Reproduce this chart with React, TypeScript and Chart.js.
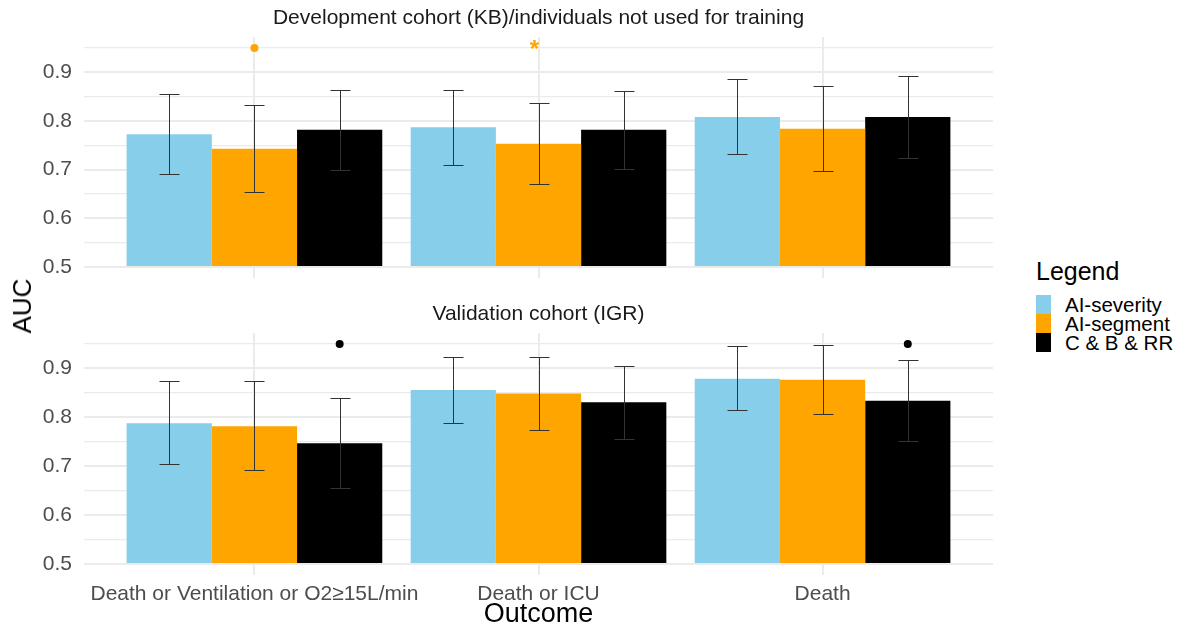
import React, { useEffect, useRef } from 'react';
import { Chart, registerables } from 'chart.js';

Chart.register(...registerables);

const FONT = '"Liberation Sans", Arial, Helvetica, sans-serif';

// ---------- data ----------
const outcomes = ['Death or Ventilation or O2≥15L/min', 'Death or ICU', 'Death'];
const seriesNames = ['AI-severity', 'AI-segment', 'C & B & RR'];
const seriesColors = ['#87CEEB', '#FFA500', '#000000'];
const panelTitles = ['Development cohort (KB)/individuals not used for training', 'Validation cohort (IGR)'];
const yTickValues = [0.5, 0.55, 0.6, 0.65, 0.7, 0.75, 0.8, 0.85, 0.9, 0.95];
const yMin = 0.4775;
const yMax = 0.9725;
const barBase = 0.5;
const markLevel = 0.95;

// Development cohort (KB)
const devSeverity = [0.773, 0.787, 0.808];
const devSeverityLo = [0.691, 0.71, 0.733];
const devSeverityHi = [0.856, 0.864, 0.886];
const devSegment = [0.743, 0.753, 0.784];
const devSegmentLo = [0.654, 0.671, 0.697];
const devSegmentHi = [0.832, 0.837, 0.871];
const devCbrr = [0.782, 0.782, 0.808];
const devCbrrLo = [0.7, 0.702, 0.724];
const devCbrrHi = [0.864, 0.862, 0.892];
const devMarks = [
  { outcome: 0, series: 1, symbol: 'dot', color: '#FFA500' },
  { outcome: 1, series: 1, symbol: 'star', color: '#FFA500' },
];

// Validation cohort (IGR)
const valSeverity = [0.788, 0.856, 0.879];
const valSeverityLo = [0.704, 0.788, 0.816];
const valSeverityHi = [0.875, 0.924, 0.945];
const valSegment = [0.782, 0.849, 0.877];
const valSegmentLo = [0.692, 0.774, 0.806];
const valSegmentHi = [0.875, 0.924, 0.947];
const valCbrr = [0.747, 0.831, 0.834];
const valCbrrLo = [0.655, 0.756, 0.751];
const valCbrrHi = [0.839, 0.906, 0.917];
const valMarks = [
  { outcome: 0, series: 2, symbol: 'dot', color: '#000000' },
  { outcome: 2, series: 2, symbol: 'dot', color: '#000000' },
];

type Mark = { outcome: number; series: number; symbol: string; color: string };

type PanelProps = {
  title: string;
  values: number[][];
  lows: number[][];
  highs: number[][];
  marks: Mark[];
  showX: boolean;
  top: number;
  height: number;
  xAxisHeight: number;
};

function Panel(p: PanelProps) {
  const ref = useRef<HTMLCanvasElement | null>(null);
  useEffect(() => {
    if (!ref.current) return;

    const errorBars = {
      id: 'errorBars',
      afterDatasetsDraw(chart: any) {
        const ctx = chart.ctx;
        const ys = chart.scales.y;
        ctx.save();
        ctx.strokeStyle = '#333333';
        ctx.lineWidth = 1;
        p.values.forEach((_, si) => {
          const meta = chart.getDatasetMeta(si);
          meta.data.forEach((el: any, i: number) => {
            const x = Math.round(el.x) + 0.5;
            const yl = Math.round(ys.getPixelForValue(p.lows[si][i])) + 0.5;
            const yh = Math.round(ys.getPixelForValue(p.highs[si][i])) + 0.5;
            const cap = 10;
            ctx.beginPath();
            ctx.moveTo(x, yl);
            ctx.lineTo(x, yh);
            ctx.moveTo(x - cap, yh);
            ctx.lineTo(x + cap, yh);
            ctx.moveTo(x - cap, yl);
            ctx.lineTo(x + cap, yl);
            ctx.stroke();
          });
        });
        ctx.restore();
      },
    };

    const marksPlugin = {
      id: 'marks',
      afterDatasetsDraw(chart: any) {
        const ctx = chart.ctx;
        const ys = chart.scales.y;
        ctx.save();
        p.marks.forEach((m) => {
          const el = chart.getDatasetMeta(m.series).data[m.outcome];
          const x = el.x;
          const y = ys.getPixelForValue(markLevel);
          ctx.fillStyle = m.color;
          if (m.symbol === 'dot') {
            ctx.beginPath();
            ctx.arc(x, y, 4, 0, Math.PI * 2);
            ctx.fill();
          } else {
            ctx.font = `bold 24px ${FONT}`;
            ctx.textAlign = 'center';
            ctx.textBaseline = 'middle';
            ctx.fillText('*', x - 4, y + 2);
          }
        });
        ctx.restore();
      },
    };

    const stripTitle = {
      id: 'stripTitle',
      afterDraw(chart: any) {
        const ctx = chart.ctx;
        const a = chart.chartArea;
        ctx.save();
        ctx.font = `21px ${FONT}`;
        ctx.fillStyle = '#1a1a1a';
        ctx.textAlign = 'center';
        ctx.textBaseline = 'middle';
        ctx.fillText(p.title, (a.left + a.right) / 2, a.top - 19);
        ctx.restore();
      },
    };

    const chart = new Chart(ref.current, {
      type: 'bar',
      data: {
        datasets: p.values.map((vals, si) => ({
          label: seriesNames[si],
          data: vals.map((v, i) => ({ x: i, y: v })),
          backgroundColor: seriesColors[si],
          borderWidth: 0,
          base: barBase,
          categoryPercentage: 0.9,
          barPercentage: 1.0,
        })) as any,
      },
      options: {
        animation: false,
        responsive: false,
        devicePixelRatio: 1,
        layout: { padding: { top: 37, right: 7, left: 0, bottom: 0 } },
        plugins: {
          legend: { display: false },
          tooltip: { enabled: false },
        },
        scales: {
          x: {
            type: 'linear',
            min: -0.6,
            max: 2.6,
            offset: false,
            afterBuildTicks: (s: any) => {
              s.ticks = outcomes.map((_, i) => ({ value: i }));
            },
            ticks: {
              display: p.showX,
              autoSkip: false,
              maxRotation: 0,
              padding: 7,
              color: '#4d4d4d',
              font: { size: 21, family: FONT },
              callback: (v: any) => outcomes[Math.round(Number(v))] ?? '',
            },
            grid: { color: '#ebebeb', lineWidth: 2, drawTicks: false, offset: false },
            border: { display: false },
            title: {
              display: p.showX,
              text: 'Outcome',
              color: '#000000',
              font: { size: 27, family: FONT },
              padding: { top: 0, bottom: 6 },
            },
            afterFit: (s: any) => {
              s.height = p.xAxisHeight;
              s.paddingLeft = 0;
              s.paddingRight = 0;
            },
          } as any,
          y: {
            type: 'linear',
            min: yMin,
            max: yMax,
            afterBuildTicks: (s: any) => {
              s.ticks = yTickValues.map((v) => ({ value: v }));
            },
            ticks: {
              autoSkip: false,
              padding: 12,
              color: '#4d4d4d',
              font: { size: 21, family: FONT },
              callback: (v: any) => {
                const n = Math.round(Number(v) * 100);
                return n % 10 === 0 ? (n / 100).toFixed(1) : '';
              },
            },
            grid: {
              color: '#ebebeb',
              drawTicks: false,
              lineWidth: (ctx: any) => {
                const v = ctx.tick ? ctx.tick.value : 0;
                return Math.round(v * 100) % 10 === 0 ? 2 : 1.3;
              },
            },
            border: { display: false },
            afterFit: (s: any) => {
              s.width = 84;
              s.paddingTop = 0;
              s.paddingBottom = 0;
            },
          } as any,
        },
      },
      plugins: [errorBars, marksPlugin, stripTitle],
    });
    return () => chart.destroy();
  }, []);

  return (
    <canvas
      ref={ref}
      width={1000}
      height={p.height}
      style={{ position: 'absolute', left: 0, top: p.top, width: 1000, height: p.height }}
    />
  );
}

export default function App() {
  return (
    <div
      style={{
        position: 'absolute',
        left: 0,
        top: 0,
        width: 1185,
        height: 637,
        background: '#ffffff',
        overflow: 'hidden',
        fontFamily: FONT,
      }}
    >
      <Panel
        title={panelTitles[0]}
        values={[devSeverity, devSegment, devCbrr]}
        lows={[devSeverityLo, devSegmentLo, devCbrrLo]}
        highs={[devSeverityHi, devSegmentHi, devCbrrHi]}
        marks={devMarks}
        showX={false}
        top={0}
        height={290}
        xAxisHeight={12}
      />
      <Panel
        title={panelTitles[1]}
        values={[valSeverity, valSegment, valCbrr]}
        lows={[valSeverityLo, valSegmentLo, valCbrrLo]}
        highs={[valSeverityHi, valSegmentHi, valCbrrHi]}
        marks={valMarks}
        showX={true}
        top={296}
        height={341}
        xAxisHeight={62}
      />
      <div
        style={{
          position: 'absolute',
          left: 22,
          top: 306,
          transform: 'translate(-50%, -50%) rotate(-90deg)',
          fontSize: 26,
          color: '#000000',
          whiteSpace: 'nowrap',
          lineHeight: '30px',
        }}
      >
        AUC
      </div>
      <div style={{ position: 'absolute', left: 1036, top: 256, fontSize: 25, lineHeight: '30px', color: '#000000' }}>
        Legend
      </div>
      {seriesNames.map((name, i) => (
        <div key={name}>
          <div
            style={{
              position: 'absolute',
              left: 1036,
              top: 295 + i * 19,
              width: 15,
              height: 19,
              background: seriesColors[i],
            }}
          />
          <div
            style={{
              position: 'absolute',
              left: 1065,
              top: 295 + i * 19,
              height: 19,
              lineHeight: '19px',
              fontSize: 20.5,
              color: '#000000',
              whiteSpace: 'nowrap',
            }}
          >
            {name}
          </div>
        </div>
      ))}
    </div>
  );
}
